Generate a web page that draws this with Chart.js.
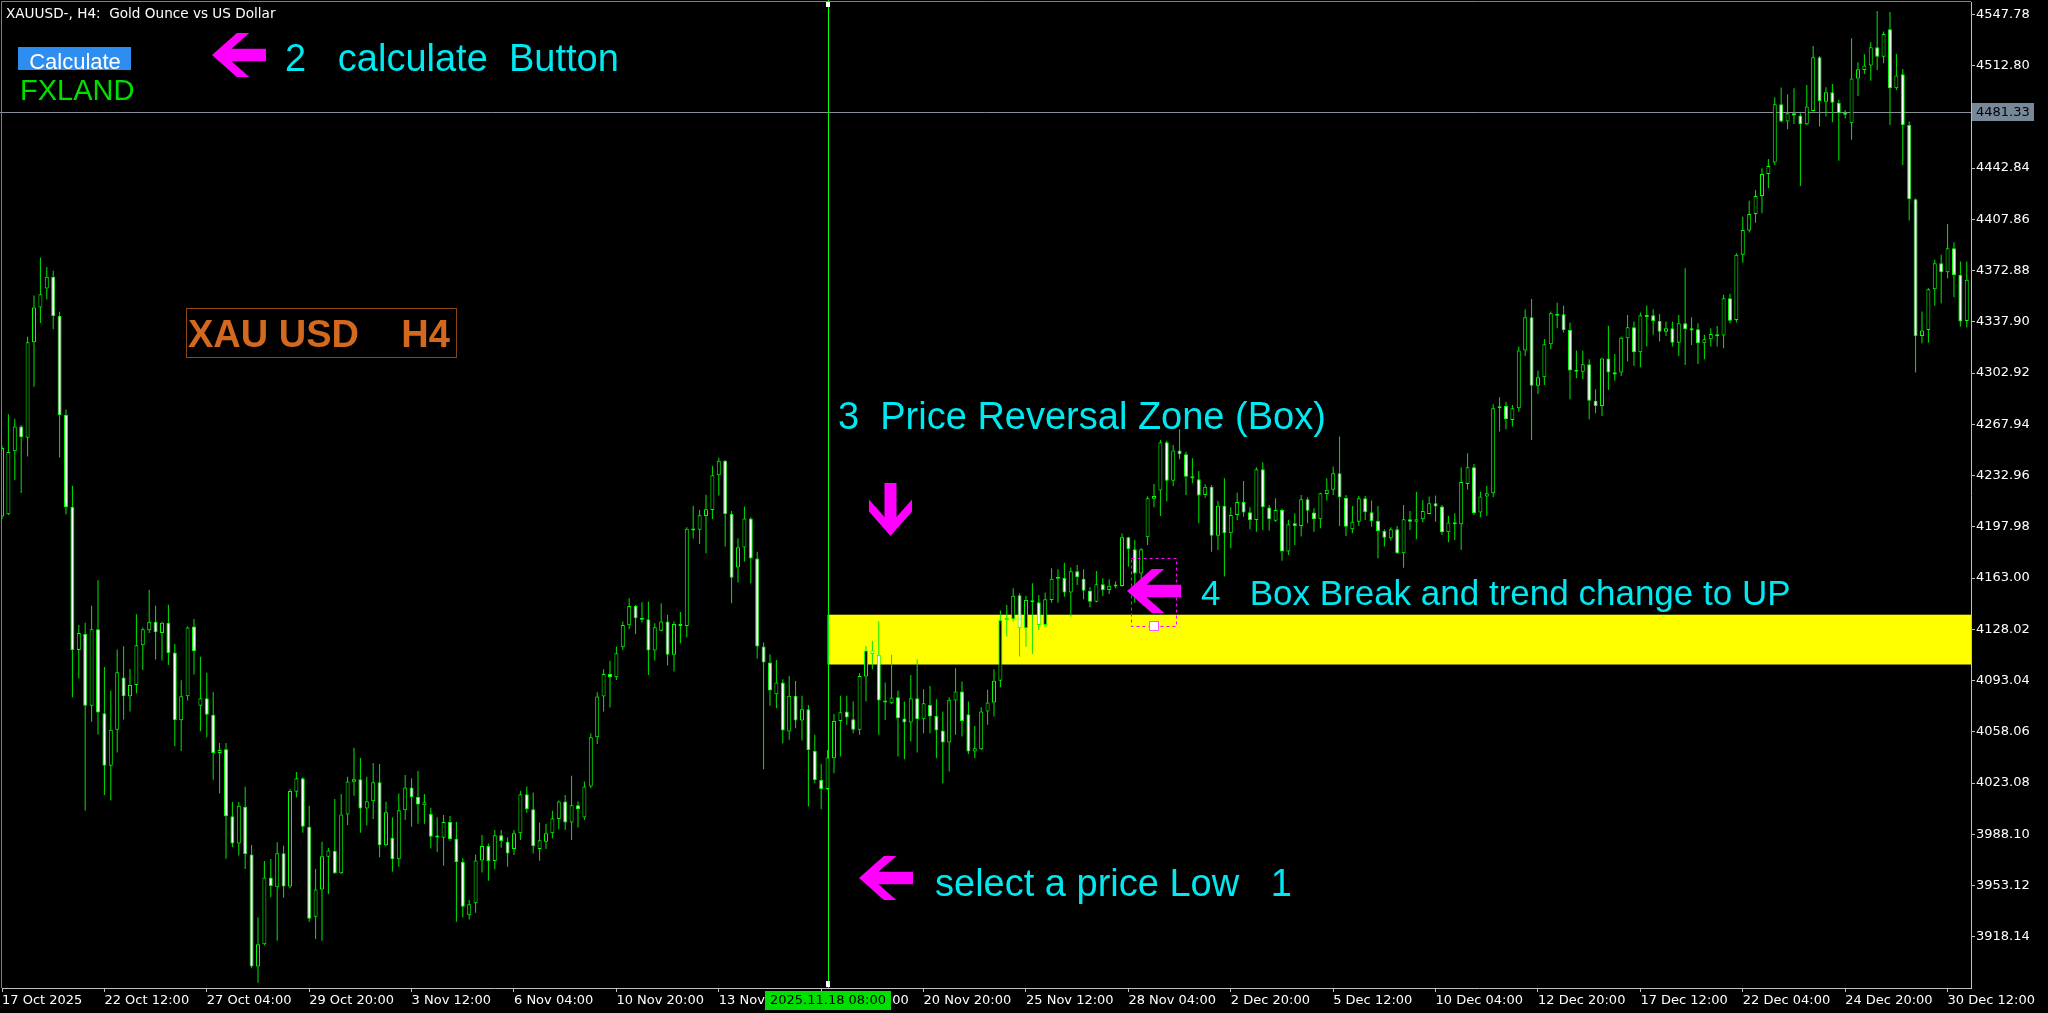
<!DOCTYPE html>
<html>
<head>
<meta charset="utf-8">
<script src="https://cdn.jsdelivr.net/npm/chart.js@4.4.1/dist/chart.umd.min.js"></script>
<style>
  html, body { margin: 0; padding: 0; background: #000; overflow: hidden; }
</style>
</head>
<body>
<canvas id="chart" width="2048" height="1013"></canvas>
<script>
// XAUUSD H4 candles, one entry per bar
const opens = [4205.0,4206.6,4249.5,4266.5,4258.8,4323.9,4347.7,4360.6,4368.6,4341.9,
  4274.3,4211.5,4113.9,4124.8,4075.9,4128.0,4070.7,4034.9,4059.4,4095.2,
  4082.3,4090.0,4117.1,4127.4,4133.2,4125.5,4132.5,4112.2,4065.9,4082.3,
  4130.0,4075.9,4081.0,4069.7,4043.6,4046.2,4000.5,3981.8,4006.9,3974.4,
  3897.8,3913.0,3958.7,3951.9,3975.1,3952.4,4017.2,4026.3,3993.3,3931.9,
  3950.5,3972.8,3976.9,3961.5,4001.7,4024.0,4025.6,4005.8,4010.6,4023.6,
  3980.6,3985.8,3971.0,4004.5,4020.1,4013.5,4008.0,4001.9,3987.3,3985.8,
  3996.5,3985.1,3969.4,3932.8,3941.0,3970.3,3980.1,3969.9,3987.4,3983.0,
  3978.0,3988.8,4015.5,4005.2,3978.0,3983.0,3988.8,3998.6,4010.5,3996.1,
  4008.0,3999.5,4020.7,4054.4,4082.1,4097.6,4095.3,4115.8,4130.8,4144.0,
  4136.0,4134.9,4113.5,4127.0,4133.3,4110.6,4131.7,4130.3,4196.6,4195.9,
  4205.4,4209.5,4233.2,4243.0,4206.8,4170.2,4183.8,4203.6,4176.3,4116.3,
  4105.3,4083.7,4091.7,4058.2,4082.6,4065.7,4073.5,4045.0,4025.2,4019.1,
  4040.0,4065.5,4071.9,4066.7,4059.4,4095.8,4113.5,4110.6,4079.2,4077.6,
  4081.7,4067.1,4064.4,4081.0,4066.7,4076.4,4068.9,4058.9,4050.7,4079.4,
  4085.5,4070.1,4044.6,4046.2,4071.9,4078.0,4093.0,4134.4,4134.9,4151.2,
  4128.7,4147.6,4146.5,4131.0,4148.0,4162.6,4163.1,4153.1,4167.6,4162.6,
  4154.4,4146.9,4158.7,4154.9,4157.8,4157.6,4190.8,4182.6,4166.2,4190.8,
  4217.2,4222.7,4255.7,4229.5,4250.0,4247.5,4232.2,4230.4,4219.7,4225.4,
  4191.9,4212.4,4193.6,4206.1,4214.9,4207.9,4202.6,4237.2,4211.1,4202.2,
  4209.5,4181.1,4200.4,4198.6,4216.8,4207.7,4203.1,4220.4,4223.2,4234.5,
  4217.9,4196.3,4201.5,4217.5,4207.9,4202.0,4195.2,4190.2,4196.3,4179.9,
  4203.1,4201.5,4203.1,4206.8,4214.1,4211.8,4194.3,4200.9,4199.7,4227.2,
  4238.6,4207.7,4218.6,4220.9,4278.9,4280.5,4270.9,4278.9,4318.3,4341.0,
  4294.2,4300.1,4322.6,4343.4,4343.1,4332.4,4305.0,4303.9,4308.9,4284.1,
  4280.5,4312.8,4303.5,4303.3,4326.7,4334.2,4317.1,4342.4,4342.4,4338.5,
  4331.2,4333.5,4323.7,4336.9,4333.5,4332.8,4323.3,4326.0,4329.2,4328.5,
  4354.0,4339.2,4383.6,4400.2,4411.5,4423.8,4438.8,4446.6,4486.4,4474.6,
  4480.2,4478.7,4472.7,4481.8,4518.5,4488.2,4494.6,4487.5,4480.7,4473.4,
  4503.9,4509.8,4512.8,4525.3,4518.9,4537.6,4497.3,4506.9,4472.3,4421.6,
  4328.3,4332.4,4360.1,4377.9,4371.7,4388.1,4369.9,4338.5];

const highs = [4253.3,4274.9,4271.7,4267.5,4327.7,4355.8,4381.8,4375.4,4372.8,4344.8,
  4278.1,4226.0,4130.9,4132.5,4144.1,4161.5,4102.3,4086.2,4114.2,4116.4,
  4101.0,4138.3,4129.3,4155.1,4144.1,4133.2,4144.8,4118.0,4093.2,4130.0,
  4135.1,4109.3,4098.4,4085.2,4050.4,4050.4,4010.1,4010.1,4020.5,3980.8,
  3931.4,3969.9,3971.2,3982.6,3980.3,4019.0,4030.6,4027.0,4007.6,3964.4,
  3983.1,3978.7,4012.2,4015.6,4027.4,4047.2,4040.2,4027.4,4036.8,4036.1,
  4010.4,3999.7,4016.0,4028.6,4026.3,4031.3,4015.6,4006.3,3999.7,4001.3,
  4000.6,3996.5,3971.7,3943.3,3974.4,3987.6,3981.9,3991.0,3991.0,3986.0,
  3991.1,4017.7,4020.7,4016.6,3996.1,3995.2,4004.1,4011.2,4015.0,4028.0,
  4010.5,4024.1,4057.1,4085.1,4100.8,4106.5,4116.3,4133.3,4149.2,4144.7,
  4146.5,4147.0,4132.2,4145.8,4137.9,4133.3,4139.9,4197.7,4212.3,4209.5,
  4219.8,4239.6,4245.2,4243.6,4208.8,4190.2,4211.8,4204.5,4180.9,4119.0,
  4111.0,4107.1,4093.9,4096.2,4092.8,4082.6,4076.4,4056.0,4036.2,4045.7,
  4070.3,4082.6,4082.6,4078.7,4098.1,4116.7,4120.3,4133.3,4091.7,4110.6,
  4086.2,4078.7,4096.9,4107.6,4087.1,4089.4,4080.3,4071.9,4081.7,4101.5,
  4092.4,4078.7,4062.1,4074.8,4086.7,4100.8,4140.8,4144.7,4156.1,4152.6,
  4151.0,4159.4,4151.5,4153.1,4169.7,4169.0,4173.5,4170.3,4172.0,4169.0,
  4156.7,4167.8,4162.8,4162.2,4160.6,4193.5,4191.2,4189.0,4183.3,4218.6,
  4227.2,4257.3,4256.8,4253.8,4264.5,4249.3,4244.7,4236.1,4227.0,4226.5,
  4215.6,4231.1,4211.3,4221.3,4229.3,4211.3,4238.6,4242.0,4212.9,4217.5,
  4210.5,4202.7,4207.2,4219.7,4218.2,4210.6,4221.3,4231.1,4239.1,4259.6,
  4219.7,4212.2,4219.0,4219.0,4215.9,4212.2,4196.3,4197.7,4198.6,4212.9,
  4208.8,4222.0,4216.3,4218.6,4219.3,4212.9,4205.4,4207.2,4238.6,4248.2,
  4240.9,4222.0,4225.9,4281.6,4286.4,4283.4,4281.2,4321.0,4346.5,4353.5,
  4304.6,4326.2,4344.9,4351.0,4348.8,4337.4,4318.3,4318.3,4312.4,4291.9,
  4313.3,4335.3,4316.0,4327.8,4342.6,4338.1,4344.2,4349.0,4346.5,4343.3,
  4338.1,4338.1,4342.6,4374.5,4341.0,4336.9,4329.0,4333.5,4335.1,4356.3,
  4357.0,4384.7,4409.7,4420.6,4427.9,4442.7,4449.1,4491.2,4497.8,4493.2,
  4497.3,4480.2,4499.6,4526.2,4519.4,4498.0,4500.3,4489.4,4482.5,4531.4,
  4515.1,4520.5,4528.7,4550.1,4536.0,4549.4,4520.7,4510.5,4474.6,4422.0,
  4344.9,4360.8,4380.2,4383.6,4404.7,4392.2,4379.0,4379.0];

const lows = [4203.4,4206.0,4229.8,4221.1,4245.9,4293.6,4337.1,4353.2,4332.9,4245.3,
  4206.6,4081.7,4094.5,4004.3,4064.9,4056.2,4015.0,4011.1,4043.9,4066.5,
  4072.0,4084.2,4100.3,4125.5,4107.4,4106.8,4103.6,4048.2,4044.9,4079.4,
  4097.1,4058.5,4054.3,4025.3,4015.9,3971.5,3979.5,3973.7,3964.4,3896.6,
  3886.8,3912.3,3945.1,3915.5,3944.8,3951.2,4013.3,3989.2,3928.5,3916.6,
  3915.5,3947.4,3961.0,3961.0,3994.4,4014.5,3989.2,3994.2,3998.5,3972.4,
  3980.0,3962.6,3966.0,3997.9,3993.3,3995.3,3995.3,3978.5,3976.0,3966.7,
  3983.7,3928.5,3931.4,3930.0,3934.6,3962.1,3956.4,3964.2,3979.0,3966.0,
  3974.0,3984.3,4002.9,3975.0,3970.0,3978.0,3985.4,3991.6,3991.1,3984.3,
  3992.7,3997.9,4019.6,4049.8,4071.9,4074.6,4093.5,4114.0,4128.1,4124.9,
  4132.6,4096.9,4106.7,4126.5,4103.3,4099.2,4118.5,4122.6,4190.0,4186.3,
  4180.0,4203.4,4219.3,4184.5,4145.8,4160.0,4174.3,4159.5,4108.1,4032.5,
  4075.8,4074.2,4050.3,4052.6,4060.5,4052.1,4007.0,4023.0,4005.2,4018.4,
  4029.8,4041.2,4062.8,4057.1,4056.0,4078.7,4100.8,4056.0,4066.2,4077.0,
  4041.2,4039.4,4051.4,4043.9,4057.1,4057.1,4040.0,4023.0,4030.9,4056.0,
  4054.8,4043.0,4040.0,4045.7,4062.8,4068.5,4088.5,4123.1,4133.3,4109.4,
  4116.2,4111.2,4127.6,4129.4,4146.2,4146.2,4150.3,4136.7,4158.3,4148.5,
  4143.0,4146.5,4150.8,4152.1,4156.0,4157.1,4170.8,4146.2,4161.7,4185.6,
  4211.3,4205.4,4215.2,4225.9,4244.1,4219.7,4227.7,4200.4,4217.9,4181.0,
  4182.2,4164.0,4183.3,4202.6,4204.9,4196.3,4194.7,4195.8,4195.4,4201.5,
  4174.9,4178.8,4185.6,4191.3,4200.4,4194.7,4197.0,4215.9,4219.7,4198.6,
  4191.8,4193.6,4198.6,4202.7,4198.1,4176.5,4184.5,4188.6,4179.5,4170.1,
  4195.8,4189.5,4201.1,4206.5,4201.5,4192.5,4187.4,4189.0,4182.2,4223.2,
  4206.1,4204.5,4205.4,4218.1,4263.0,4264.6,4266.4,4276.6,4314.6,4257.3,
  4288.7,4294.8,4319.2,4333.5,4330.6,4285.1,4299.4,4298.9,4271.4,4275.5,
  4273.7,4291.4,4297.6,4301.0,4310.8,4307.8,4306.9,4321.0,4329.0,4324.4,
  4328.3,4321.0,4314.6,4308.5,4322.1,4309.2,4312.4,4321.0,4321.0,4319.9,
  4336.9,4337.4,4378.3,4398.8,4405.6,4412.0,4429.1,4445.0,4474.0,4469.3,
  4473.0,4430.6,4472.3,4481.4,4471.2,4478.0,4474.1,4447.9,4476.8,4462.1,
  4492.1,4507.1,4502.5,4509.8,4514.4,4472.3,4496.2,4445.0,4407.0,4303.3,
  4323.3,4323.7,4348.8,4350.6,4367.6,4354.7,4334.7,4334.0];

const closes = [4251.7,4249.1,4266.5,4259.1,4323.9,4347.7,4356.7,4368.6,4341.9,4274.3,
  4211.5,4113.9,4125.5,4075.9,4128.0,4071.3,4034.9,4059.4,4098.7,4082.3,
  4090.0,4117.1,4128.0,4133.2,4126.1,4132.5,4111.9,4065.9,4082.3,4129.3,
  4113.2,4081.0,4069.7,4043.6,4045.6,4000.5,3981.8,4007.6,3974.7,3897.8,
  3913.0,3958.7,3952.8,3975.1,3952.4,4017.6,4026.3,3993.3,3930.5,3950.5,
  3973.1,3977.1,3961.5,4001.7,4024.2,4025.6,4005.8,4010.6,4023.6,3980.6,
  4003.1,3971.0,4004.5,4020.1,4013.5,4008.5,4009.9,3986.5,3986.0,3996.5,
  3984.9,3969.2,3938.7,3940.3,3970.3,3980.1,3969.9,3987.4,3983.5,3975.0,
  3988.8,4015.5,4005.2,3980.0,3984.0,3988.8,3999.1,4010.5,3996.1,4008.0,
  4005.2,4020.7,4054.4,4082.1,4097.6,4095.3,4111.7,4131.0,4144.0,4135.6,
  4134.5,4113.5,4129.4,4133.3,4110.6,4131.7,4130.3,4196.6,4195.4,4205.9,
  4210.0,4233.2,4243.0,4206.8,4163.3,4184.0,4203.6,4176.3,4116.3,4105.3,
  4086.2,4091.7,4058.9,4082.6,4065.7,4073.5,4045.7,4025.2,4019.1,4040.5,
  4065.5,4071.4,4067.8,4059.4,4096.2,4113.5,4111.2,4079.4,4078.0,4081.4,
  4067.3,4064.4,4081.0,4066.7,4077.6,4068.5,4058.9,4050.7,4079.9,4085.5,
  4065.5,4044.6,4046.9,4071.9,4078.0,4093.0,4134.4,4135.6,4151.0,4128.7,
  4148.0,4146.5,4131.0,4148.5,4162.6,4163.6,4153.1,4167.6,4163.5,4154.4,
  4146.9,4158.7,4154.9,4157.8,4157.3,4190.8,4182.9,4166.2,4182.6,4217.4,
  4219.0,4255.7,4229.5,4250.0,4247.5,4232.2,4231.2,4219.3,4225.4,4191.9,
  4212.4,4193.6,4206.1,4214.9,4207.7,4202.6,4237.2,4211.3,4203.1,4209.5,
  4181.1,4199.7,4198.6,4216.8,4209.0,4203.1,4220.9,4223.2,4234.5,4218.1,
  4198.1,4201.5,4217.5,4207.9,4202.0,4195.2,4190.6,4196.3,4179.9,4203.1,
  4201.5,4203.1,4208.8,4214.1,4211.8,4194.3,4200.9,4199.7,4228.6,4238.6,
  4207.2,4218.6,4220.9,4278.9,4280.0,4271.4,4278.9,4318.3,4341.0,4294.2,
  4300.1,4322.6,4343.8,4342.0,4332.4,4304.6,4303.8,4308.9,4284.1,4280.5,
  4312.8,4303.3,4302.0,4327.1,4334.2,4317.1,4342.4,4341.2,4338.5,4331.2,
  4333.5,4323.7,4336.9,4332.8,4332.0,4323.3,4326.0,4329.6,4328.0,4354.0,
  4338.7,4383.6,4400.6,4411.5,4423.8,4438.8,4444.3,4486.4,4474.6,4480.2,
  4478.7,4472.7,4484.8,4518.5,4488.7,4494.6,4487.5,4480.2,4479.2,4503.9,
  4510.3,4512.8,4525.3,4518.9,4534.4,4497.3,4506.0,4472.3,4421.6,4328.3,
  4331.9,4360.1,4377.9,4371.7,4388.1,4369.9,4338.1,4366.7];

// time axis labels and the bar index they sit on
const timeIdx = [0,16,32,48,64,80,96,112,128,144,160,176,192,208,224,240,256,272,288,304];
const timeLabels = ['17 Oct 2025','22 Oct 12:00','27 Oct 04:00','29 Oct 20:00','3 Nov 12:00',
  '6 Nov 04:00','10 Nov 20:00','13 Nov 12:00','17 Nov 20:00','20 Nov 20:00','25 Nov 12:00',
  '28 Nov 04:00','2 Dec 20:00','5 Dec 12:00','10 Dec 04:00','12 Dec 20:00','17 Dec 12:00',
  '22 Dec 04:00','24 Dec 20:00','30 Dec 12:00'];

// price axis ticks
const priceTicks = [4547.78,4512.80,4477.82,4442.84,4407.86,4372.88,4337.90,4302.92,4267.94,
  4232.96,4197.98,4163.00,4128.02,4093.04,4058.06,4023.08,3988.10,3953.12,3918.14];

const lastPrice = 4481.33;
const markIndex = 129;            // selected low bar (vertical line)
const markLabel = '2025.11.18 08:00';
const zoneTop = 4138.0;
const zoneBottom = 4104.0;

const idx = opens.map((_, i) => i);
const LIME = '#00ff00';
const CYAN = '#00e8f0';
const AXIS_FONT = { family: 'DejaVu Sans', size: 13 };

const ARROW = [[0,0.5],[0.46,0],[0.69,0],[0.36,0.36],[1,0.36],[1,0.64],[0.36,0.64],[0.69,1],[0.46,1]];
function poly(ctx, pts) {
  ctx.beginPath();
  pts.forEach(([px, py], k) => k ? ctx.lineTo(px, py) : ctx.moveTo(px, py));
  ctx.closePath();
  ctx.fill();
}
function arrowLeft(ctx, x, y, w, h) { poly(ctx, ARROW.map(([u, v]) => [x + u * w, y + v * h])); }
function arrowDown(ctx, x, y, w, h) { poly(ctx, ARROW.map(([u, v]) => [x + v * w, y + h - u * h])); }

// keep the plot area edge to edge: no extra room for end labels
function noPad(s) {
  s.paddingTop = 0; s.paddingBottom = 0; s.paddingLeft = 0; s.paddingRight = 0;
}

const overlay = {
  id: 'overlay',
  beforeDraw(chart) {
    const ctx = chart.ctx;
    ctx.save();
    ctx.fillStyle = '#000';
    ctx.fillRect(0, 0, chart.width, chart.height);
    ctx.restore();
  },
  beforeDatasetsDraw(chart) {
    const { ctx, chartArea: a, scales: { x, y } } = chart;
    ctx.save();
    // reversal zone
    const x0 = x.getPixelForValue(markIndex);
    const yt = y.getPixelForValue(zoneTop), yb = y.getPixelForValue(zoneBottom);
    ctx.fillStyle = '#ffff00';
    ctx.fillRect(x0, yt, a.right - x0, yb - yt);
    // current price line
    const yp = Math.round(y.getPixelForValue(lastPrice)) + 0.5;
    ctx.strokeStyle = '#8a909a';
    ctx.lineWidth = 1;
    ctx.beginPath(); ctx.moveTo(0, yp); ctx.lineTo(a.right, yp); ctx.stroke();
    // selected bar line
    const xl = Math.round(x0) + 0.5;
    ctx.strokeStyle = LIME;
    ctx.beginPath(); ctx.moveTo(xl, 0); ctx.lineTo(xl, a.bottom); ctx.stroke();
    ctx.restore();
  },
  afterDraw(chart) {
    const { ctx, chartArea: a, scales: { x, y } } = chart;
    ctx.save();
    // window frame
    ctx.strokeStyle = '#808080';
    ctx.lineWidth = 1;
    ctx.beginPath();
    ctx.moveTo(1.5, a.bottom); ctx.lineTo(1.5, 1.5); ctx.lineTo(a.right, 1.5);
    ctx.stroke();

    // title
    ctx.fillStyle = '#ffffff';
    ctx.font = '13.6px "DejaVu Sans"';
    ctx.textBaseline = 'alphabetic';
    ctx.textAlign = 'left';
    ctx.fillText('XAUUSD-, H4:  Gold Ounce vs US Dollar', 6, 18);

    // calculate button
    ctx.fillStyle = '#2e8df0';
    ctx.fillRect(18, 47, 113, 23);
    ctx.fillStyle = '#ffffff';
    ctx.font = '22px "Liberation Sans"';
    ctx.textAlign = 'center';
    ctx.fillText('Calculate', 75, 69);
    ctx.textAlign = 'left';
    ctx.fillStyle = '#00e000';
    ctx.font = '29px "Liberation Sans"';
    ctx.fillText('FXLAND', 20, 100);

    // symbol box
    ctx.strokeStyle = '#8b4513';
    ctx.strokeRect(186.5, 308.5, 270, 49);
    ctx.fillStyle = '#d2691e';
    ctx.font = 'bold 38px "Liberation Sans"';
    ctx.fillText('XAU USD    H4', 188, 347);

    // annotations
    ctx.fillStyle = '#ff00ff';
    arrowLeft(ctx, 212, 33, 54, 44);
    arrowDown(ctx, 869, 483, 43, 53);
    arrowLeft(ctx, 1127, 569, 54, 44);
    arrowLeft(ctx, 859, 856, 54, 44);

    ctx.fillStyle = CYAN;
    ctx.font = '38px "Liberation Sans"';
    ctx.fillText('2   calculate  Button', 285, 71);
    ctx.fillText('3  Price Reversal Zone (Box)', 838, 429);
    ctx.fillText('select a price Low   1', 935, 896);
    ctx.font = '35px "Liberation Sans"';
    ctx.fillText('4   Box Break and trend change to UP', 1201, 605);

    // selection rectangle near the break
    ctx.strokeStyle = '#ff00ff';
    ctx.setLineDash([3, 3]);
    ctx.strokeRect(1131.5, 558.5, 45, 68);
    ctx.setLineDash([]);
    ctx.fillStyle = '#ffffff';
    ctx.fillRect(1149, 621, 10, 10);
    ctx.strokeStyle = '#ff55ff';
    ctx.strokeRect(1149.5, 621.5, 9, 9);

    // markers on the vertical line
    const xm = Math.round(x.getPixelForValue(markIndex));
    ctx.fillStyle = '#ffffff';
    ctx.fillRect(xm - 2, 2, 4, 5);
    ctx.fillRect(xm - 2, a.bottom - 7, 4, 6);

    // current price tag
    const yp = y.getPixelForValue(lastPrice);
    ctx.fillStyle = '#778899';
    ctx.fillRect(a.right + 1, Math.round(yp) - 9, 62, 18);
    ctx.fillStyle = '#000000';
    ctx.font = '13px "DejaVu Sans"';
    ctx.textBaseline = 'middle';
    ctx.fillText(lastPrice.toFixed(2), a.right + 5, yp + 1);

    // selected bar time tag
    ctx.fillStyle = '#00e000';
    ctx.fillRect(xm - 63, a.bottom + 3, 126, 19);
    ctx.fillStyle = '#000000';
    ctx.textAlign = 'center';
    ctx.fillText(markLabel, xm, a.bottom + 13);
    ctx.restore();
  }
};

new Chart(document.getElementById('chart'), {
  type: 'bar',
  data: {
    datasets: [
      {
        label: 'wick',
        data: idx.map(i => ({ x: i, y: [lows[i], highs[i]] })),
        backgroundColor: '#00e800',
        borderWidth: 0,
        barThickness: 1,
        grouped: false,
        inflateAmount: 0,
        order: 2
      },
      {
        label: 'body',
        data: idx.map(i => ({ x: i, y: [Math.min(opens[i], closes[i]), Math.max(opens[i], closes[i])] })),
        backgroundColor: idx.map(i => closes[i] < opens[i] ? '#ffffff' : '#000000'),
        borderColor: LIME,
        borderWidth: 1,
        borderSkipped: false,
        barThickness: 4,
        minBarLength: 2,
        grouped: false,
        inflateAmount: 0,
        order: 1
      }
    ]
  },
  options: {
    responsive: false,
    animation: false,
    devicePixelRatio: 1,
    layout: { padding: { left: 2, top: 2, right: 0, bottom: 0 } },
    plugins: { legend: { display: false }, tooltip: { enabled: false } },
    scales: {
      x: {
        type: 'linear',
        min: 0,
        max: 307.66,
        offset: false,
        grid: { display: true, offset: false, drawOnChartArea: false, drawTicks: true, tickLength: 4, color: '#c0c0c0' },
        border: { display: true, color: '#c0c0c0' },
        ticks: {
          autoSkip: false,
          maxRotation: 0,
          align: 'start',
          padding: 1,
          color: '#ffffff',
          font: AXIS_FONT,
          callback: v => { const k = timeIdx.indexOf(v); return k >= 0 ? timeLabels[k] : ''; }
        },
        afterBuildTicks: s => { s.ticks = timeIdx.map(v => ({ value: v })); },
        afterFit: s => { s.height = 25; noPad(s); }
      },
      y: {
        type: 'linear',
        position: 'right',
        min: 3883.2,
        max: 4556.2,
        grid: { display: true, drawOnChartArea: false, drawTicks: true, tickLength: 4, color: '#c0c0c0' },
        border: { display: true, color: '#c0c0c0' },
        ticks: {
          padding: 1,
          color: '#ffffff',
          font: AXIS_FONT,
          callback: v => Number(v).toFixed(2)
        },
        afterBuildTicks: s => { s.ticks = priceTicks.map(v => ({ value: v })); },
        afterFit: s => { s.width = 77; noPad(s); }
      }
    }
  },
  plugins: [overlay]
});
</script>
</body>
</html>
